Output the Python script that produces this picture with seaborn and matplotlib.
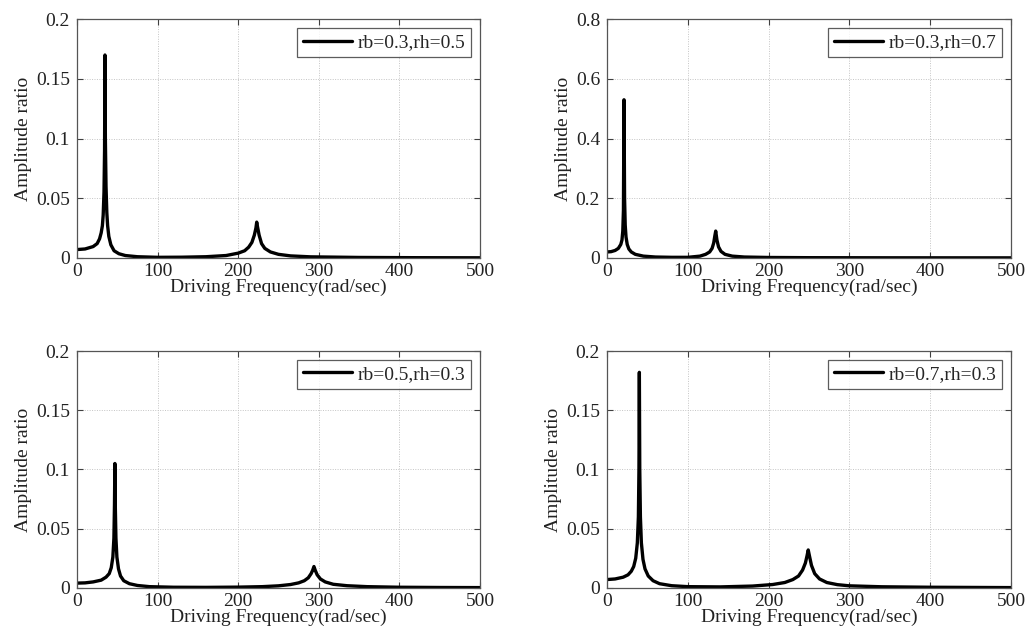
import matplotlib
matplotlib.use("Agg")
import matplotlib.pyplot as plt
import seaborn as sns

# Panel 1: rb=0.3, rh=0.5
freq_1 = [0, 10, 20, 25, 28, 30, 31.5, 32.5, 33.5, 34.2, 34.7, 35.2, 36, 37, 38, 39.5, 42, 46, 52, 60,
          75, 100, 130, 160, 185, 200, 208, 213, 217, 220, 222, 223, 224, 226, 229, 233, 240, 250, 265,
          290, 350, 420, 500]
amp_1 = [0.007, 0.0075, 0.0095, 0.012, 0.016, 0.021, 0.027, 0.036, 0.055, 0.09, 0.17, 0.1, 0.06, 0.038,
         0.027, 0.018, 0.011, 0.006, 0.0035, 0.002, 0.001, 0.0005, 0.0006, 0.001, 0.002, 0.004, 0.006,
         0.009, 0.013, 0.019, 0.025, 0.03, 0.026, 0.019, 0.012, 0.008, 0.005, 0.003, 0.0017, 0.0009,
         0.0004, 0.0002, 0.0001]

# Panel 2: rb=0.3, rh=0.7
freq_2 = [0, 5, 10, 14, 17, 18.5, 19.5, 20.3, 21, 21.7, 22.5, 23.5, 25, 27, 30, 35, 45, 60, 80, 100,
          115, 122, 127, 130, 132, 133.5, 134.5, 136, 138, 141, 146, 155, 170, 200, 250, 350, 500]
amp_2 = [0.02, 0.021, 0.025, 0.032, 0.045, 0.06, 0.09, 0.16, 0.53, 0.2, 0.11, 0.07, 0.045, 0.03, 0.02,
         0.012, 0.006, 0.003, 0.002, 0.002, 0.006, 0.012, 0.02, 0.032, 0.05, 0.075, 0.09, 0.06, 0.037,
         0.022, 0.012, 0.006, 0.003, 0.0015, 0.0008, 0.0004, 0.0002]

# Panel 3: rb=0.5, rh=0.3
freq_3 = [0, 10, 20, 30, 36, 40, 42.5, 44.5, 45.8, 46.5, 47, 47.5, 48.3, 49.5, 51.5, 54, 58, 65, 75, 90,
          120, 160, 200, 230, 250, 265, 275, 282, 287, 290.5, 292.5, 294, 295.5, 298, 302, 308, 318,
          335, 360, 400, 450, 500]
amp_3 = [0.004, 0.0042, 0.005, 0.0065, 0.009, 0.012, 0.017, 0.026, 0.042, 0.07, 0.105, 0.07, 0.042,
         0.026, 0.016, 0.01, 0.006, 0.0035, 0.002, 0.001, 0.0005, 0.0004, 0.0006, 0.001, 0.0017, 0.0028,
         0.0042, 0.006, 0.0085, 0.012, 0.015, 0.018, 0.015, 0.011, 0.0075, 0.005, 0.003, 0.0018, 0.001,
         0.0005, 0.0003, 0.0002]

# Panel 4: rb=0.7, rh=0.3
freq_4 = [0, 10, 20, 26, 30, 33, 35.5, 37.5, 38.8, 39.5, 40, 40.5, 41.3, 42.5, 44.5, 47, 51, 57, 65, 80,
          100, 140, 180, 205, 220, 230, 237, 242, 245.5, 247.5, 249, 250.5, 253, 257, 263, 272, 285,
          300, 340, 400, 500]
amp_4 = [0.007, 0.0075, 0.009, 0.011, 0.014, 0.018, 0.025, 0.038, 0.06, 0.1, 0.182, 0.1, 0.06, 0.038,
         0.024, 0.016, 0.01, 0.006, 0.0035, 0.0018, 0.001, 0.0008, 0.0015, 0.0028, 0.0045, 0.007, 0.01,
         0.015, 0.021, 0.027, 0.032, 0.027, 0.019, 0.012, 0.0075, 0.0045, 0.0027, 0.0017, 0.0009,
         0.0005, 0.0002]

labels = ["rb=0.3,rh=0.5", "rb=0.3,rh=0.7", "rb=0.5,rh=0.3", "rb=0.7,rh=0.3"]
y_max = [0.2, 0.8, 0.2, 0.2]
y_ticks = [[0, 0.05, 0.1, 0.15, 0.2], [0, 0.2, 0.4, 0.6, 0.8],
           [0, 0.05, 0.1, 0.15, 0.2], [0, 0.05, 0.1, 0.15, 0.2]]
y_ticklabels = [["0", "0.05", "0.1", "0.15", "0.2"], ["0", "0.2", "0.4", "0.6", "0.8"],
                ["0", "0.05", "0.1", "0.15", "0.2"], ["0", "0.05", "0.1", "0.15", "0.2"]]
x_ticks = [0, 100, 200, 300, 400, 500]

FS = 14
TEXT = "#222222"

sns.set_theme(style="white")
plt.rcParams["font.family"] = ["Liberation Serif", "DejaVu Serif"]
plt.rcParams["font.size"] = FS

fig = plt.figure(figsize=(10.28, 6.4), dpi=100)
positions = [
    [0.0749, 0.597, 0.392, 0.373],
    [0.5905, 0.597, 0.393, 0.373],
    [0.0749, 0.0815, 0.392, 0.370],
    [0.5905, 0.0815, 0.393, 0.370],
]
series = [(freq_1, amp_1), (freq_2, amp_2), (freq_3, amp_3), (freq_4, amp_4)]

for i, (fx, ay) in enumerate(series):
    ax = fig.add_axes(positions[i])
    sns.lineplot(x=fx, y=ay, ax=ax, color="black", linewidth=2.4, label=labels[i])
    ax.set_xlim(0, 500)
    ax.set_ylim(0, y_max[i])
    ax.set_xticks(x_ticks)
    ax.set_xticklabels([str(t) for t in x_ticks], fontsize=FS)
    ax.set_yticks(y_ticks[i])
    ax.set_yticklabels(y_ticklabels[i], fontsize=FS)
    ax.grid(True, linestyle=(0, (1, 1.5)), color="#c4c4c4", linewidth=0.7)
    ax.tick_params(direction="in", length=4, width=0.8, top=True, right=True,
                   bottom=True, left=True, colors="#404040", labelcolor=TEXT)
    ax.tick_params(axis="x", pad=4)
    ax.tick_params(axis="y", pad=5)
    for sp in ax.spines.values():
        sp.set_color("#555555")
        sp.set_linewidth(0.9)
    ax.set_xlabel("Driving Frequency(rad/sec)", fontsize=FS, color=TEXT, labelpad=-1)
    ax.set_ylabel("Amplitude ratio", fontsize=FS, color=TEXT, labelpad=3)
    leg = ax.legend(loc="upper right", fontsize=FS, frameon=True, fancybox=False,
                    edgecolor="#333333", handlelength=2.5, borderaxespad=0.45,
                    borderpad=0.3, handletextpad=0.3)
    leg.get_frame().set_linewidth(0.9)

fig.savefig("out.png", dpi=100)
